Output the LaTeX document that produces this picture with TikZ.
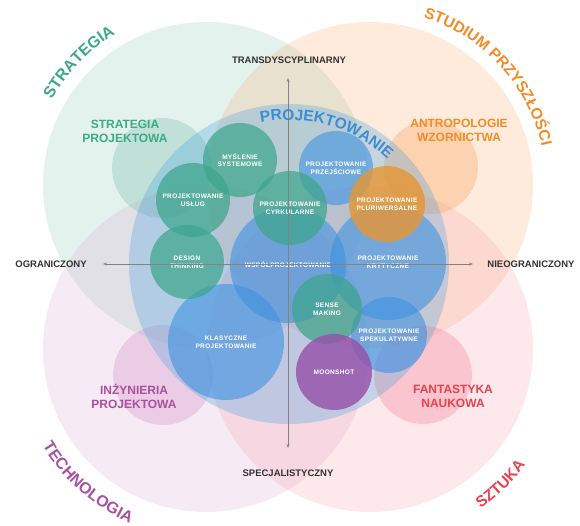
\documentclass[tikz,border=0pt]{standalone}
\usepackage{fontspec}
\setmainfont{Liberation Sans}
\newfontfamily\spacedfont{Liberation Sans}[LetterSpace=5]
\usetikzlibrary{decorations.text, arrows.meta}

\definecolor{areagreen}{RGB}{120,190,170}
\definecolor{areaorange}{RGB}{250,175,115}
\definecolor{areatech}{RGB}{215,160,205}
\definecolor{areaart}{RGB}{245,150,165}
\definecolor{areablue}{RGB}{70,160,222}
\definecolor{labgreen}{RGB}{60,170,130}
\definecolor{laborange}{RGB}{242,140,40}
\definecolor{labpurple}{RGB}{170,80,160}
\definecolor{labred}{RGB}{232,65,80}
\definecolor{labblue}{RGB}{60,140,215}
\definecolor{dotteal}{RGB}{60,165,140}
\definecolor{dotblue}{RGB}{60,145,225}
\definecolor{dotorange}{RGB}{230,150,50}
\definecolor{dotpurple}{RGB}{150,80,170}
\definecolor{axisgray}{RGB}{130,130,130}
\definecolor{axistext}{RGB}{50,50,50}

\begin{document}
\begin{tikzpicture}[x=1pt, y=1pt,
  field/.style={circle, inner sep=0pt, minimum size=#1},
  method/.style={circle, inner sep=0pt, minimum size=#1, align=center,
    text=white, font=\spacedfont\bfseries\fontsize{6.5}{7.6}\selectfont},
  fieldlabel/.style={align=center, font=\bfseries\fontsize{12}{14}\selectfont},
  axislabel/.style={text=axistext, font=\bfseries\fontsize{9.5}{11}\selectfont},
  axisline/.style={draw=axisgray, line width=0.6pt,
    {Stealth[length=4pt,width=3pt]}-{Stealth[length=4pt,width=3pt]}},
]
\useasboundingbox (0,0) rectangle (580,526);

% centres of the four domains and of design
\coordinate (G) at (206,341);
\coordinate (O) at (370,341);
\coordinate (T) at (206,177);
\coordinate (A) at (370,177);
\coordinate (P) at (289,262);

% four domains
\fill[areagreen, fill opacity=0.2] (G) circle[radius=163];
\fill[areaorange, fill opacity=0.25] (O) circle[radius=163];
\fill[areatech, fill opacity=0.22] (T) circle[radius=163];
\fill[areaart, fill opacity=0.22] (A) circle[radius=163];

% sub-fields of each domain
\node[field=100, fill=areagreen, fill opacity=0.32] (sp) at (162,358) {};
\node[field=94, fill=areaorange, fill opacity=0.42] (aw) at (431,359) {};
\node[field=100, fill=areatech, fill opacity=0.4] (ip) at (163,151) {};
\node[field=98, fill=areaart, fill opacity=0.42] (fn) at (423,151) {};

% design
\fill[areablue, fill opacity=0.3] (P) circle[radius=160];

% design methods
\node[method=116, fill=dotblue, fill opacity=0.58, text opacity=1] (wp) at (288,261) {WSPÓŁPROJEKTOWANIE};
\node[method=116, fill=dotblue, fill opacity=0.58, text opacity=1] (pk) at (388,264) {PROJEKTOWANIE\\KRYTYCZNE};
\node[method=116, fill=dotblue, fill opacity=0.58, text opacity=1] (kp) at (226,184) {KLASYCZNE\\PROJEKTOWANIE};
\node[method=74, fill=dotblue, fill opacity=0.58, text opacity=1] (pp) at (336,358) {PROJEKTOWANIE\\PRZEJŚCIOWE};
\node[method=76, fill=dotblue, fill opacity=0.58, text opacity=1] (ps) at (389,191) {PROJEKTOWANIE\\SPEKULATYWNE};
\node[method=74, fill=dotteal, fill opacity=0.72, text opacity=1] (ms) at (240,366) {MYŚLENIE\\SYSTEMOWE};
\node[method=74, fill=dotteal, fill opacity=0.72, text opacity=1] (pu) at (193,326) {PROJEKTOWANIE\\USŁUG};
\node[method=74, fill=dotteal, fill opacity=0.72, text opacity=1] (pc) at (290,318) {PROJEKTOWANIE\\CYRKULARNE};
\node[method=74, fill=dotteal, fill opacity=0.72, text opacity=1] (dt) at (187,264) {DESIGN\\THINKING};
\node[method=70, fill=dotteal, fill opacity=0.72, text opacity=1] (sm) at (327,217) {SENSE\\MAKING};
\node[method=76, fill=dotorange, fill opacity=0.8, text opacity=1] (pl) at (387,322) {PROJEKTOWANIE\\PLURIWERSALNE};
\node[method=76, fill=dotpurple, fill opacity=0.8, text opacity=1] (mo) at (334,154) {MOONSHOT};

% axes
\coordinate (up) at (288,448);
\coordinate (down) at (288,78);
\coordinate (left) at (103,262);
\coordinate (right) at (473,262);
\draw[axisline] (down) -- (up);
\draw[axisline] (left) -- (right);
\node[axislabel] (ltop) at (289,466) {TRANSDYSCYPLINARNY};
\node[axislabel] (lbottom) at (288,53) {SPECJALISTYCZNY};
\node[axislabel] (lleft) at (51,262) {OGRANICZONY};
\node[axislabel] (lright) at (531,262) {NIEOGRANICZONY};

% sub-field labels
\node[fieldlabel, text=labgreen] (spl) at (125,395) {STRATEGIA\\PROJEKTOWA};
\node[fieldlabel, text=laborange] (awl) at (459,396) {ANTROPOLOGIE\\WZORNICTWA};
\node[fieldlabel, text=labpurple] (ipl) at (134,130) {INŻYNIERIA\\PROJEKTOWA};
\node[fieldlabel, text=labred] (fnl) at (453,130) {FANTASTYKA\\NAUKOWA};

% curved domain titles
\path[decorate, decoration={text along path, text align=center,
  text={|\bfseries\fontsize{16}{16}\selectfont\color{labgreen}|STRATEGIA}}]
  (G) ++(171:176) arc[start angle=171, end angle=101, radius=176];
\path[decorate, decoration={text along path, text align=center,
  text={|\bfseries\fontsize{15.5}{15.5}\selectfont\color{laborange}|STUDIUM PRZYSZŁOŚCI}}]
  (O) ++(90:176) arc[start angle=90, end angle=-5, radius=176];
\path[decorate, decoration={text along path, text align=center,
  text={|\bfseries\fontsize{16}{16}\selectfont\color{labpurple}|TECHNOLOGIA}}]
  (T) ++(191:190) arc[start angle=191, end angle=266, radius=190];
\path[decorate, decoration={text along path, text align=center,
  text={|\bfseries\fontsize{15.5}{15.5}\selectfont\color{labred}|SZTUKA}}]
  (A) ++(290:194) arc[start angle=290, end angle=338, radius=194];
\path[decorate, decoration={text along path, text align=center,
  text={|\bfseries\fontsize{15.5}{15.5}\selectfont\color{labblue}|PROJEKTOWANIE}}]
  (P) ++(120:144) arc[start angle=120, end angle=28, radius=144];
\end{tikzpicture}
\end{document}
